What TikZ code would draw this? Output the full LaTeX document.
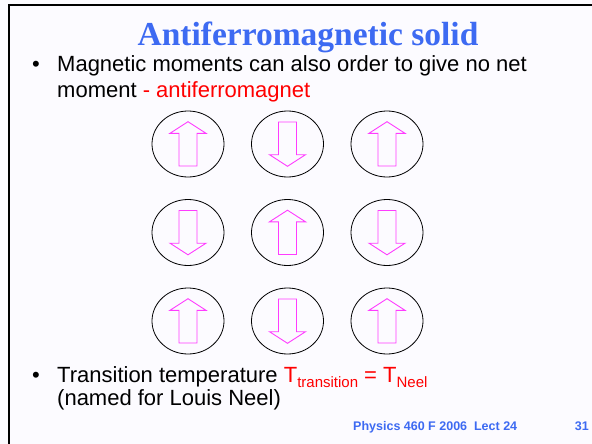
\documentclass[tikz,border=0pt]{standalone}
\usepackage{fontspec}
\setmainfont{Liberation Sans}
\newfontfamily\titlefont{Liberation Serif}
\definecolor{slideblue}{HTML}{3D6AF2}
\definecolor{spinpink}{HTML}{FF3CFF}
\definecolor{slidebg}{HTML}{FCFBFF}
\newcommand{\lowsub}[1]{\raisebox{-5pt}{\fontsize{15}{15}\selectfont #1}}

\begin{document}
\begin{tikzpicture}[x=1pt, y=-1pt,
    body/.style={anchor=base west, inner sep=0pt, font=\fontsize{22}{26}\selectfont},
    foot/.style={inner sep=0pt, text=slideblue, font=\bfseries\fontsize{12.5}{14}\selectfont},
    cell/.style={draw=black, line width=0.8pt},
    spin/.style={draw=spinpink, line width=0.9pt, line join=miter}]
    \fill[slidebg] (0,0) rectangle (592,444);
    \useasboundingbox (0,0) rectangle (592,444);
    \draw[line width=2pt] (8.5,444) -- (8.5,5.5) -- (592,5.5);

    \node[anchor=base, inner sep=0pt, text=slideblue,
          font=\titlefont\bfseries\fontsize{33.5}{40}\selectfont] (title) at (308,46) {Antiferromagnetic solid};

    \node[body] (dot1) at (32,71) {\textbullet};
    \node[body] (line1) at (57,71) {Magnetic moments can also order to give no net};
    \node[body] (line2) at (57,98) {moment \textcolor{red}{- antiferromagnet}};

    % 3x3 lattice of moments, neighbours opposite
    \foreach \row/\y in {0/144, 1/232.5, 2/321}
      \foreach \col/\x in {0/188, 1/287.5, 2/387} {
        \pgfmathtruncatemacro{\dir}{1-2*mod(\row+\col,2)}
        \coordinate (s\row\col) at (\x,\y);
        \draw[cell] (s\row\col) ellipse (36pt and 33pt);
        \begin{scope}[shift={(s\row\col)}, yscale=\dir]
          \draw[spin] (-9,22) -- (-9,-10.7) -- (-18,-10.7) -- (0,-22.3)
                      -- (18,-10.7) -- (9,-10.7) -- (9,22) -- cycle;
        \end{scope}
      }

    \node[body] (dot2) at (32,382) {\textbullet};
    \node[body] (line3) at (57,382) {Transition temperature
        \textcolor{red}{T\lowsub{transition} = T\lowsub{Neel}}};
    \node[body] (line4) at (57,405) {(named for Louis Neel)};

    \node[foot, anchor=base west] (course) at (353,430) {Physics 460 F 2006\ \ Lect 24};
    \node[foot, anchor=base east] (page) at (589,430) {31};
\end{tikzpicture}
\end{document}
